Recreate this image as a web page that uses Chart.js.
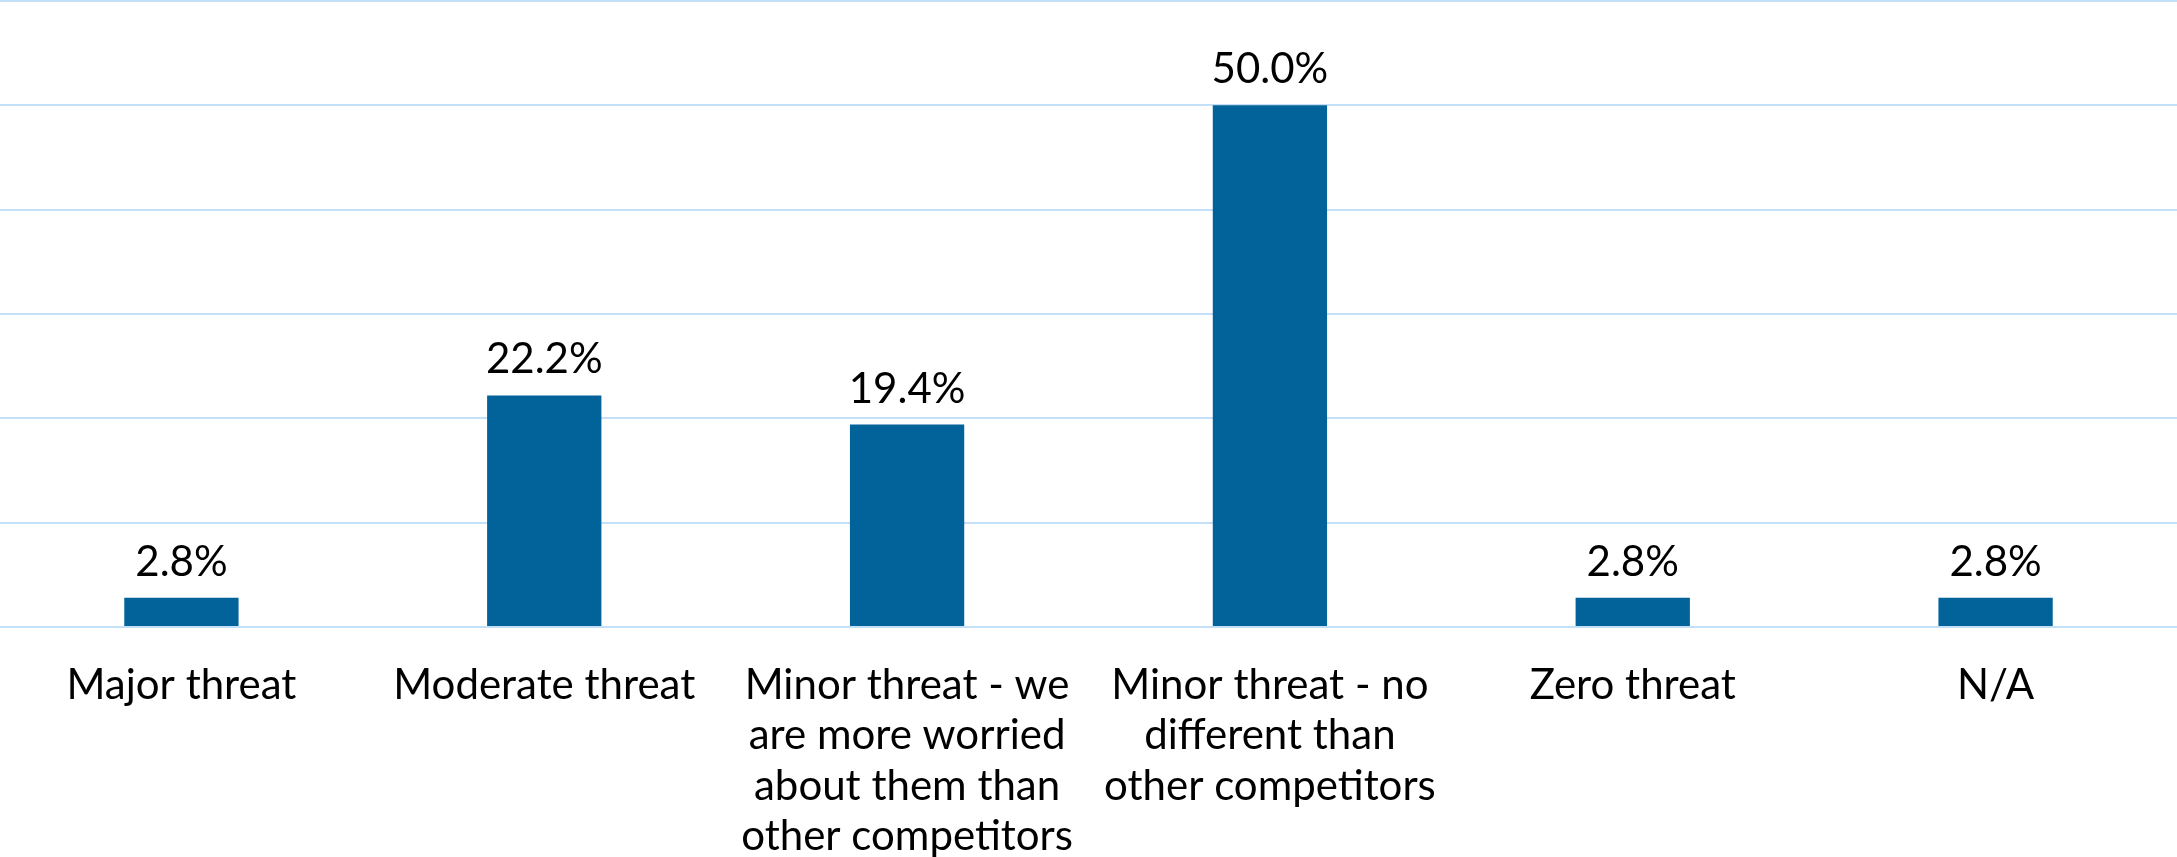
<!DOCTYPE html>
<html>
<head>
<meta charset="utf-8">
<script src="https://cdn.jsdelivr.net/npm/chart.js@4/dist/chart.umd.min.js"></script>
<style>
  html, body { margin: 0; padding: 0; background: #fff; }
  #wrap { width: 2177px; height: 857px; }
</style>
</head>
<body>
<div id="wrap"><canvas id="threatChart"></canvas></div>
<script>
// chart data
const categories = [
    "Major threat",
    "Moderate threat",
    ["Minor threat - we", "are more worried", "about them than", "other competitors"],
    ["Minor threat - no", "different than", "other competitors"],
    "Zero threat",
    "N/A"
];
const shares = [2.8, 22.2, 19.4, 50.0, 2.8, 2.8];
const yTicks = [0, 10, 20, 30, 40, 50, 60];

const barColor = "#02639b";
const gridColor = "#c3e0f8";
const fontFamily = "Lato, 'Open Sans', sans-serif";

// draws the % labels above each bar
const valueLabels = {
    id: "valueLabels",
    afterDatasetsDraw(chart) {
        const ctx = chart.ctx;
        const meta = chart.getDatasetMeta(0);
        ctx.save();
        ctx.font = "42px " + fontFamily;
        ctx.fillStyle = "#000";
        ctx.textAlign = "center";
        ctx.textBaseline = "alphabetic";
        meta.data.forEach((bar, i) => {
            ctx.fillText(shares[i].toFixed(1) + "%", bar.x, bar.y - 22);
        });
        ctx.restore();
    }
};

let threatChart;

function drawChart() {
    const ctx = document.getElementById("threatChart").getContext("2d");
    threatChart = new Chart(ctx, {
        type: "bar",
        data: {
            labels: categories,
            datasets: [{
                data: shares,
                backgroundColor: barColor,
                borderWidth: 0,
                barPercentage: 0.63,
                categoryPercentage: 0.5
            }]
        },
        options: {
            responsive: true,
            maintainAspectRatio: false,
            animation: false,
            layout: { padding: { top: 1, left: 0, right: 0, bottom: 0 } },
            plugins: {
                legend: { display: false },
                tooltip: { enabled: false }
            },
            scales: {
                x: {
                    grid: { display: false, drawTicks: false },
                    border: { display: false },
                    afterFit: scale => { scale.height = 230; }, // last label runs to the bottom edge
                    ticks: {
                        color: "#000",
                        font: { family: fontFamily, size: 42, lineHeight: 1.2 },
                        padding: 33,
                        maxRotation: 0,
                        autoSkip: false
                    }
                },
                y: {
                    min: yTicks[0],
                    max: yTicks[yTicks.length - 1],
                    afterBuildTicks: scale => {
                        scale.ticks = yTicks.map(v => ({ value: v }));
                    },
                    grid: { color: gridColor, lineWidth: 2, drawTicks: false },
                    border: { display: false },
                    ticks: { display: false }
                }
            }
        },
        plugins: [valueLabels]
    });
}

drawChart();
</script>
</body>
</html>
